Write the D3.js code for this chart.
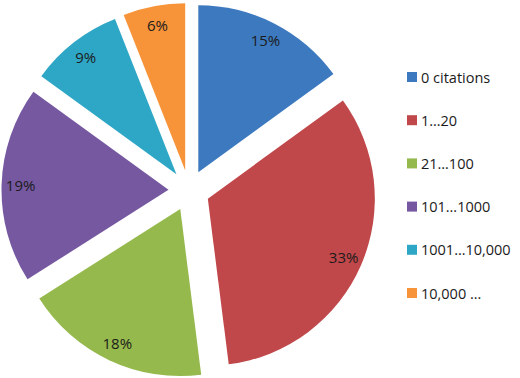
<!DOCTYPE html>
<html>
<head>
<meta charset="utf-8">
<script src="https://cdn.jsdelivr.net/npm/d3@7"></script>
<style>
  body { margin: 0; background: #fff; }
  svg { display: block; }
</style>
</head>
<body>
<div id="chart"></div>
<script>
// data
var categories = ["0 citations", "1\u202620", "21\u2026100", "101\u20261000", "1001\u202610,000", "10,000 \u2026"];
var shares = [15, 33, 18, 19, 9, 6];
var colors = ["#3d79bf", "#c0474a", "#95b94c", "#7558a0", "#2ea7c6", "#f79339"];

function createChart() {
  var width = 520, height = 378;
  var cx = 189, cy = 190.5, radius = 167, explode = 20.5, labelR = 148;

  var svg = d3.select("#chart").append("svg")
      .attr("width", width)
      .attr("height", height);

  var data = categories.map((c, i) => ({name: c, value: shares[i], color: colors[i]}));

  var pie = d3.pie().sort(null).value(d => d.value);
  var arc = d3.arc().innerRadius(0).outerRadius(radius);

  var g = svg.append("g").attr("transform", `translate(${cx},${cy})`);

  var slices = g.selectAll("g.slice")
    .data(pie(data))
    .join("g")
      .attr("class", "slice")
      .attr("transform", d => {
        var mid = (d.startAngle + d.endAngle) / 2;
        return `translate(${explode * Math.sin(mid)},${-explode * Math.cos(mid)})`;
      });

  slices.append("path")
      .attr("d", arc)
      .attr("fill", d => d.data.color);

  slices.append("text")
      .attr("x", d => labelR * Math.sin((d.startAngle + d.endAngle) / 2))
      .attr("y", d => -labelR * Math.cos((d.startAngle + d.endAngle) / 2))
      .attr("text-anchor", "middle")
      .attr("dominant-baseline", "central")
      .attr("font-family", "'Open Sans', sans-serif")
      .attr("font-size", 15)
      .attr("fill", "#1b1b1b")
      .text(d => d.data.value + "%");

  // legend
  var legend = svg.append("g").attr("transform", "translate(407,77)");
  var item = legend.selectAll("g")
    .data(data)
    .join("g")
      .attr("transform", (d, i) => `translate(0,${i * 43.2})`);

  item.append("rect")
      .attr("x", 0)
      .attr("y", -5)
      .attr("width", 10)
      .attr("height", 10)
      .attr("fill", d => d.color);

  item.append("text")
      .attr("x", 14)
      .attr("y", 0)
      .attr("dominant-baseline", "central")
      .attr("font-family", "'Open Sans', sans-serif")
      .attr("font-size", 14.5)
      .attr("fill", "#1b1b1b")
      .text(d => d.name);
}

window.onload = createChart;
</script>
</body>
</html>
